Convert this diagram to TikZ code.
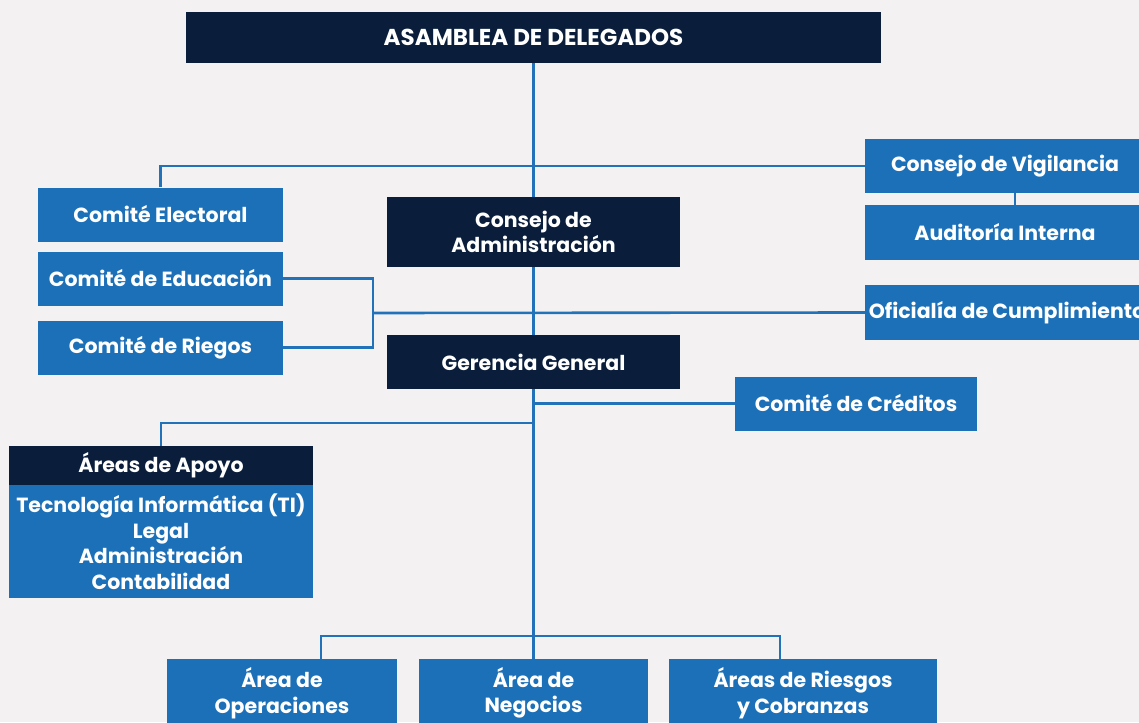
\documentclass[tikz,border=0pt]{standalone}
\usepackage{fontspec}
\setmainfont{Poppins}
\definecolor{bgc}{HTML}{F4F1F2}
\definecolor{navy}{HTML}{0A1E3B}
\definecolor{boxblue}{HTML}{1C70B8}
\definecolor{linec}{HTML}{2272BA}
\pgfdeclarelayer{background}
\pgfsetlayers{background,main}
\tikzset{
  base/.style={inner sep=0pt, align=center, text=white, font=\fontsize{20.5}{25.5}\selectfont\bfseries},
  darkbox/.style={base, fill=navy},
  bluebox/.style={base, fill=boxblue},
  conn/.style={draw=linec, line width=2.6pt},
}
\begin{document}
\begin{tikzpicture}[x=1pt,y=-1pt]
\useasboundingbox (0,0) rectangle (1139,722);
\clip (0,0) rectangle (1139,722);
% nodes
\node[darkbox, minimum width=695pt, minimum height=51pt, font=\fontsize{23}{27}\selectfont\bfseries] (asam) at (533.5,37.5) {ASAMBLEA DE DELEGADOS};
\node[bluebox, minimum width=245pt, minimum height=54pt] (elec) at (160.5,214.5) {Comité Electoral};
\node[darkbox, minimum width=293pt, minimum height=70pt] (cadm) at (533.5,232) {Consejo de\\Administración};
\node[bluebox, minimum width=280pt, minimum height=54pt] (vig) at (1005,166) {Consejo de Vigilancia};
\node[bluebox, minimum width=280pt, minimum height=55pt] (aud) at (1005,232.5) {Auditoría Interna};
\node[bluebox, minimum width=284pt, minimum height=55pt] (ofi) at (1007,312.5) {Oficialía de Cumplimiento};
\node[bluebox, minimum width=245pt, minimum height=54pt] (edu) at (160.5,278.5) {Comité de Educación};
\node[bluebox, minimum width=245pt, minimum height=54pt] (rie) at (160.5,347.5) {Comité de Riegos};
\node[darkbox, minimum width=293pt, minimum height=54pt] (ger) at (533.5,362) {Gerencia General};
\node[bluebox, minimum width=242pt, minimum height=54pt] (cred) at (856,403.5) {Comité de Créditos};
\node[darkbox, minimum width=304pt, minimum height=39pt] (apoyoH) at (161,465.5) {Áreas de Apoyo};
\node[bluebox, minimum width=304pt, minimum height=113pt] (apoyoB) at (161,541.5) {Tecnología Informática (TI)\\Legal\\Administración\\Contabilidad};
\node[bluebox, minimum width=230pt, minimum height=68pt] (ope) at (282,693) {Área de\\Operaciones};
\node[bluebox, minimum width=229pt, minimum height=68pt] (neg) at (533.5,693) {Área de\\Negocios};
\node[bluebox, minimum width=268pt, minimum height=68pt] (rco) at (803,693) {Áreas de Riesgos\\y Cobranzas};
% junctions
\coordinate (br) at (373,313);
\coordinate (j1) at (533.5,423);
\coordinate (j2) at (533.5,636);
\begin{pgfonlayer}{background}
\fill[bgc] (0,0) rectangle (1139,722);
\draw[conn] (asam.south) -- (cadm.north);
\draw[conn] (cadm.south) -- (ger.north);
\draw[conn] (ger.south) -- (neg.north);
\draw[conn] (elec.north) |- (vig.west);
\draw[conn] ([xshift=10pt]vig.south) -- ([xshift=10pt]aud.north);
\draw[conn] (edu.east) -| (br) |- (rie.east);
\draw[conn] (br) -- (ofi.west);
\draw[conn] (cred.west) -| (ger.south);
\draw[conn] (apoyoH.north) |- (j1);
\draw[conn] ([xshift=39pt]ope.north) |- (j2);
\draw[conn] ([xshift=-23pt]rco.north) |- (j2);
\end{pgfonlayer}
\end{tikzpicture}
\end{document}
